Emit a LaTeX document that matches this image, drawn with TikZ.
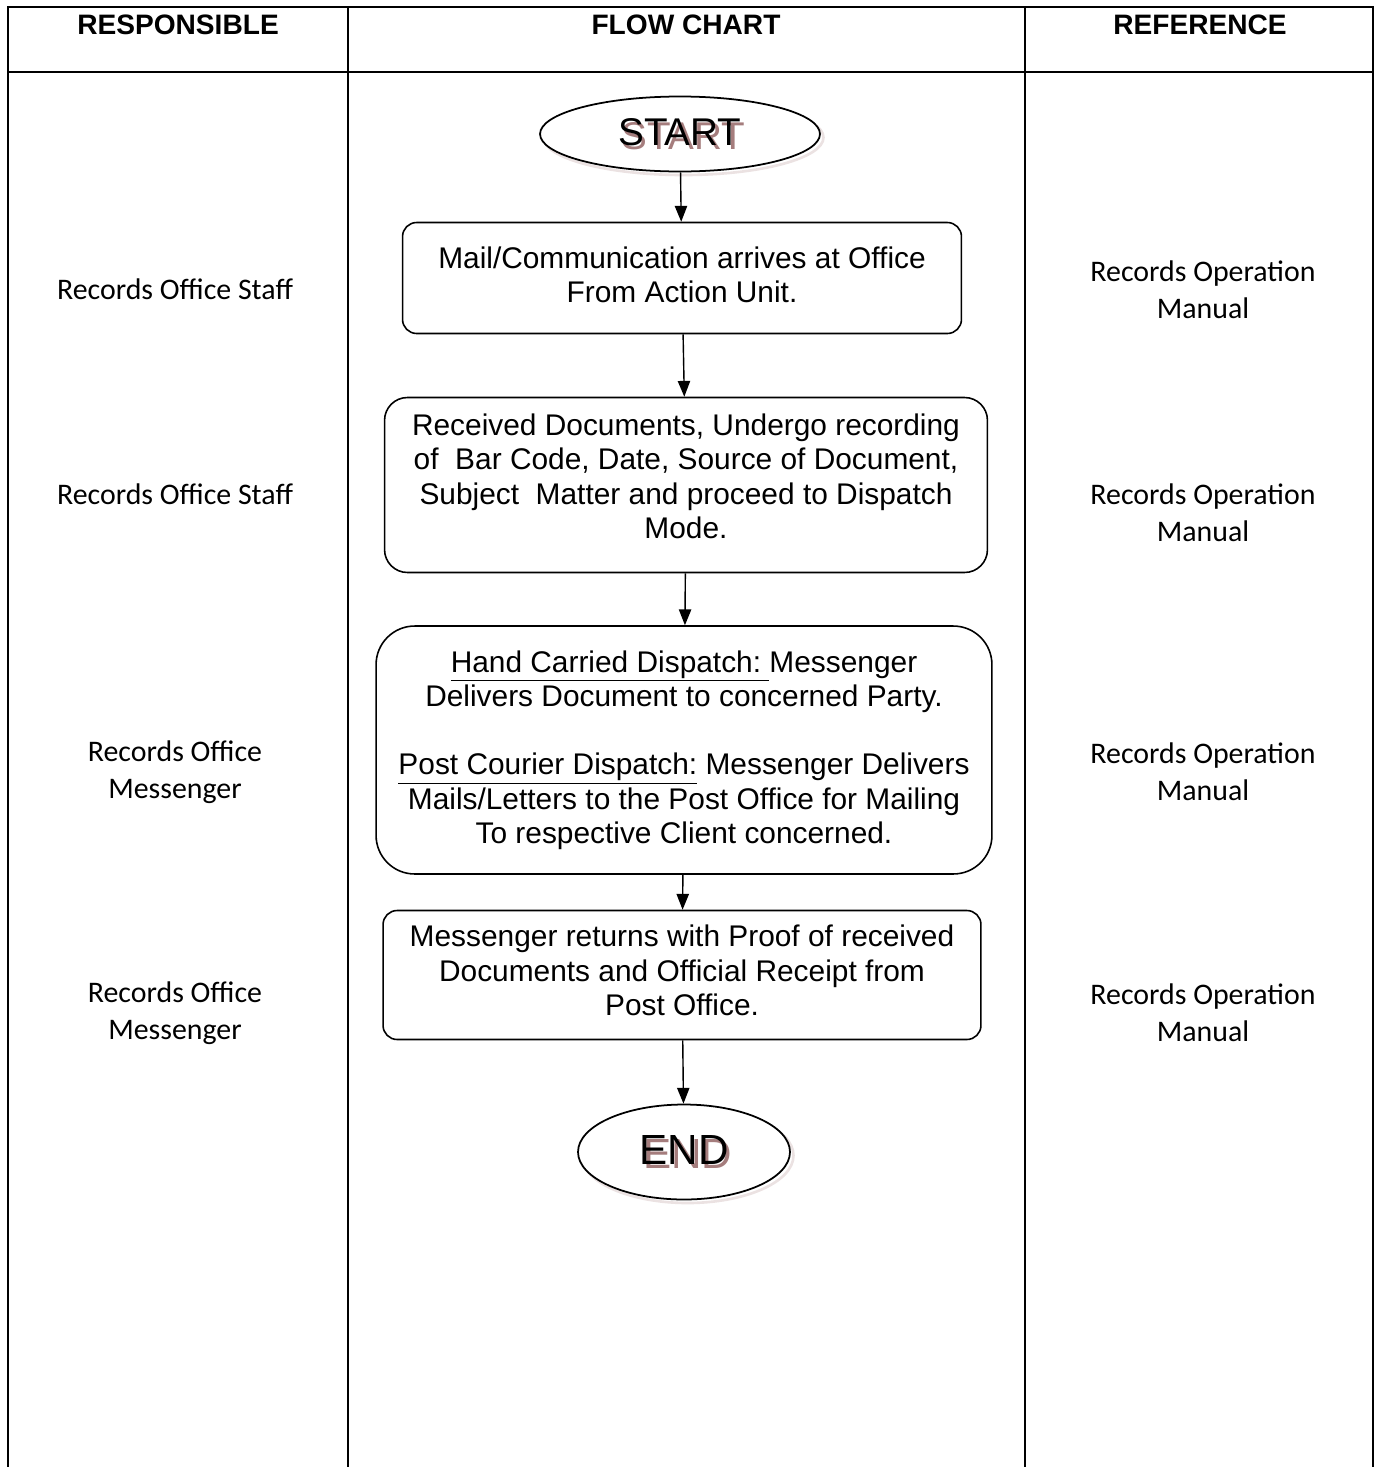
\documentclass[tikz,border=0pt]{standalone}
\usepackage{fontspec}
\setmainfont{Liberation Sans}
\newfontfamily\sidefont{Carlito}
\usepackage{tikz}
\usetikzlibrary{positioning, shapes.geometric, arrows.meta, shadows}
\definecolor{shadowrose}{RGB}{165,125,125}
\newcommand{\shadowed}[1]{\makebox[0pt][l]{\raisebox{-2.5pt}{\hspace{2pt}\color{shadowrose}#1}}#1}
\newcommand{\uln}[1]{\underline{#1}}
\tikzset{
	grid/.style={
		line width=1.2pt,
	},
	headr/.style={
		font={\fontsize{16}{19}\selectfont\bfseries},
	},
	side/.style={
		align=center,
		font={\sidefont\fontsize{17}{21}\selectfont},
	},
	terminal/.style={
		ellipse,
		draw,
		line width=1pt,
		inner sep=0pt,
		fill=white,
		drop shadow={shadow xshift=2pt, shadow yshift=-2pt, fill=none, draw=shadowrose!45, line width=1.5pt},
	},
	stepbox/.style={
		draw,
		rounded corners=8pt,
		line width=0.9pt,
		align=center,
		inner sep=0pt,
		font={\fontsize{17}{19.5}\selectfont},
	},
	flow/.style={
		-{Triangle[length=9pt,width=7pt]},
		line width=0.8pt,
	}
}

\begin{document}
\begin{tikzpicture}[x=0.02cm, y=-0.02cm]
\useasboundingbox (0,0) rectangle (1379,1467);
% table
\draw[grid] (8,1467) -- (8,7) -- (1373,7) -- (1373,1467);
\draw[grid] (8,72) -- (1373,72);
\draw[grid] (348,7) -- (348,1467);
\draw[grid] (1025,7) -- (1025,1467);
\node[headr] (hresp) at (178,25) {RESPONSIBLE};
\node[headr] (hflow) at (686,25) {FLOW CHART};
\node[headr] (href)  at (1200,25) {REFERENCE};

% flow chart
\node[terminal, minimum width=5.6cm, minimum height=1.5cm] (start) at (680,134)
	{\fontsize{22}{24}\selectfont\shadowed{START}};
\node[stepbox, minimum width=11.18cm, minimum height=2.22cm] (mail) at (682,278)
	{Mail/Communication arrives at Office\\From Action Unit.\\[-15.5pt]};
\node[stepbox, rounded corners=13pt, minimum width=12.06cm, minimum height=3.5cm] (recv) at (686,485)
	{Received Documents, Undergo recording\\of\ \ Bar Code, Date, Source of Document,\\Subject\ \ Matter and proceed to Dispatch\\Mode.\\[-9.5pt]};
\node[stepbox, rounded corners=22pt, minimum width=12.32cm, minimum height=4.96cm] (disp) at (684,750)
	{\uln{Hand Carried Dispatch:\ }Messenger\\Delivers Document to concerned Party.\\[19.5pt]\uln{Post Courier Dispatch:} Messenger Delivers\\Mails/Letters to the Post Office for Mailing\\To respective Client concerned.};
\node[stepbox, minimum width=11.96cm, minimum height=2.58cm] (ret) at (682,975)
	{Messenger returns with Proof of received\\Documents and Official Receipt from\\Post Office.\\[-14pt]};
\node[terminal, minimum width=4.24cm, minimum height=1.9cm] (end) at (684,1152)
	{\fontsize{24}{26}\selectfont\shadowed{END}};

\draw[flow] (start) -- (mail);
\draw[flow] (mail) -- (recv);
\draw[flow] (recv) -- (disp);
\draw[flow] (disp) -- (ret);
\draw[flow] (ret) -- (end);

% responsible
\node[side] (r1) at (175,289) {Records Office Staff};
\node[side] (r2) at (175,494) {Records Office Staff};
\node[side] (r3) at (175,772) {Records Office\\Messenger};
\node[side] (r4) at (175,1013) {Records Office\\Messenger};

% reference
\node[side] (m1) at (1203,290) {Records Operation\\Manual};
\node[side] (m2) at (1203,513) {Records Operation\\Manual};
\node[side] (m3) at (1203,772) {Records Operation\\Manual};
\node[side] (m4) at (1203,1013) {Records Operation\\Manual};
\end{tikzpicture}
\end{document}
